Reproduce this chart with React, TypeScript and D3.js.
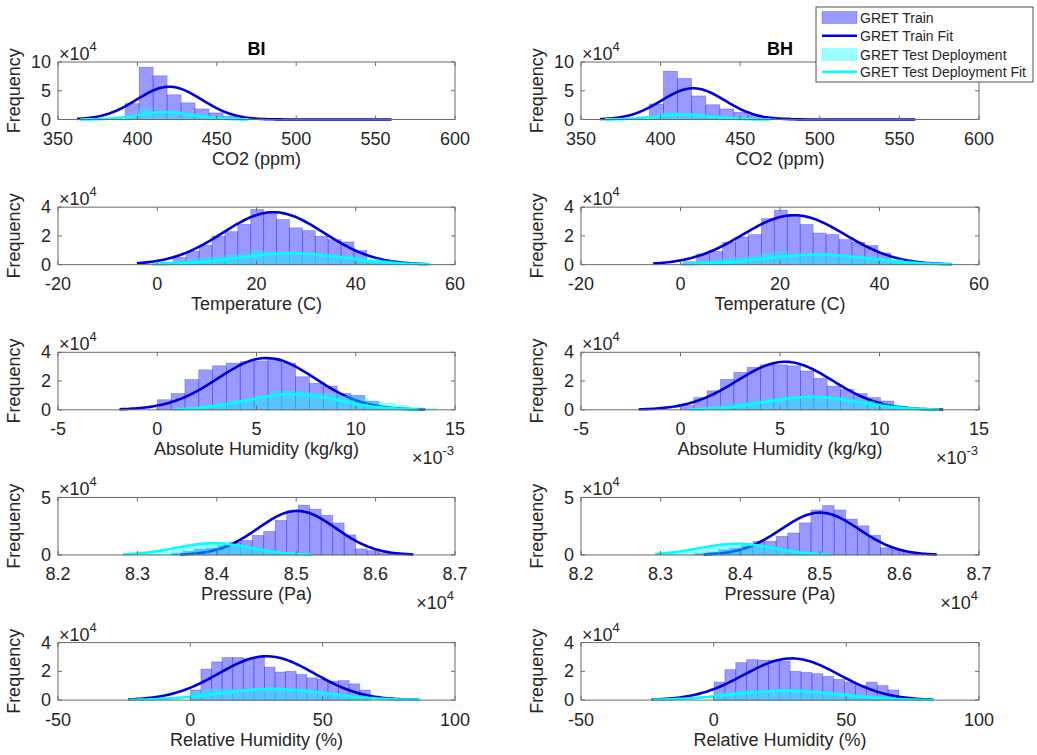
import React from 'react';
import * as d3 from 'd3';

// ---------------- DATA (counts in units of 1e4) ----------------
const sites = ['BI', 'BH'];
const variableLabels = ['CO2 (ppm)', 'Temperature (C)', 'Absolute Humidity (kg/kg)', 'Pressure (Pa)', 'Relative Humidity (%)'];
const xDomains = [[350, 600], [-20, 60], [-5, 15], [8.2, 8.7], [-50, 100]];
const xTickValues = [[350, 400, 450, 500, 550, 600], [-20, 0, 20, 40, 60], [-5, 0, 5, 10, 15], [8.2, 8.3, 8.4, 8.5, 8.6, 8.7], [-50, 0, 50, 100]];
const xExponents = ['', '', '-3', '4', ''];
const yMaxValues = [10, 4, 4, 5, 4];
const yTickValues = [[0, 5, 10], [0, 2, 4], [0, 2, 4], [0, 5], [0, 2, 4]];
const legendLabels = ['GRET Train', 'GRET Train Fit', 'GRET Test Deployment', 'GRET Test Deployment Fit'];

// histogram bins: [first edge, bin width]
const co2BinsBI = { train: [392.3, 8.8], test: [392.3, 8.8] };
const co2BinsBH = { train: [392.9, 8.86], test: [392.9, 8.86] };
const tempBinsBI = { train: [0.64, 2.6], test: [0.64, 2.6] };
const tempBinsBH = { train: [0.66, 2.6], test: [0.66, 2.6] };
const ahBinsBI = { train: [0, 0.697], test: [0.8, 0.7] };
const ahBinsBH = { train: [0, 0.67], test: [0.4, 0.67] };
const presBinsBI = { train: [8.3432, 0.01448], test: [8.30, 0.0145] };
const presBinsBH = { train: [8.3432, 0.01457], test: [8.30, 0.0146] };
const rhBinsBI = { train: [0, 4.0], test: [0, 4.0] };
const rhBinsBH = { train: [0.13, 4.1], test: [0.13, 4.1] };

// train counts
const co2TrainBI = [2.76, 9.1, 7.6, 4.3, 2.9, 1.84, 1.15, 0.57, 0.3, 0.2, 0.12, 0.05, 0.03, 0.02, 0.02, 0.01, 0.01, 0.01, 0.01];
const co2TrainBH = [2.7, 8.4, 7.14, 4.1, 2.57, 1.83, 1.26, 0.74, 0.46, 0.3, 0.1, 0.04, 0.02, 0.02, 0.01, 0.01, 0.01, 0.01, 0.01];
const tempTrainBI = [0.15, 0.5, 0.93, 1.35, 1.98, 2.3, 2.8, 3.84, 3.6, 3.14, 2.56, 2.37, 1.98, 1.74, 1.58, 0.98, 0.2, 0.08, 0.03];
const tempTrainBH = [0.2, 0.74, 0.93, 1.56, 1.93, 2.09, 3.2, 3.79, 3.4, 2.79, 2.2, 2.09, 1.74, 1.56, 1.33, 0.81, 0.2, 0.08, 0.03];
const ahTrainBI = [0.7, 1.13, 2.1, 2.78, 3.06, 3.25, 3.36, 3.4, 3.55, 3.25, 2.3, 1.84, 1.65, 1.13, 1.0, 0.59, 0.2, 0.08, 0.03];
const ahTrainBH = [0.3, 0.85, 1.32, 2.12, 2.6, 2.96, 3.13, 3.13, 3.06, 2.7, 2.19, 1.65, 1.41, 1.13, 0.85, 0.61, 0.24, 0.08, 0.03];
const presTrainBI = [0.15, 0.3, 0.5, 0.6, 0.8, 1.1, 1.26, 1.7, 2.05, 3.0, 3.83, 4.33, 3.98, 3.45, 2.78, 1.75, 0.53, 0.38, 0.18, 0.08];
const presTrainBH = [0.12, 0.25, 0.45, 0.6, 0.8, 1.18, 1.18, 1.62, 1.91, 2.79, 3.91, 4.29, 3.91, 3.12, 2.53, 1.71, 0.62, 0.44, 0.2, 0.08];
const rhTrainBI = [0.7, 2.16, 2.66, 2.96, 2.96, 2.89, 2.96, 2.3, 1.95, 2.0, 1.79, 1.55, 1.45, 1.32, 1.36, 1.13, 0.7];
const rhTrainBH = [1.25, 2.12, 2.61, 2.82, 2.78, 2.78, 2.73, 2.0, 1.93, 1.84, 1.65, 1.44, 1.25, 1.01, 1.25, 1.01, 0.71];

// test counts
const co2TestBI = [0.5, 2.0, 1.0, 0.9, 0.9, 0.8, 0.6, 0.4, 0.2, 0.1];
const co2TestBH = [0.4, 1.2, 0.9, 0.8, 0.75, 0.6, 0.45, 0.3, 0.15, 0.05];
const tempTestBI = [0.2, 0.3, 0.4, 0.5, 0.55, 0.65, 0.75, 1.0, 0.85, 0.8, 0.8, 0.8, 0.75, 0.7, 0.6, 0.5, 0.4, 0.3, 0.2, 0.1, 0.05];
const tempTestBH = [0.15, 0.25, 0.35, 0.45, 0.5, 0.6, 0.8, 0.95, 0.75, 0.7, 0.7, 0.7, 0.65, 0.6, 0.55, 0.45, 0.35, 0.25, 0.15, 0.08, 0.04];
const ahTestBI = [0.1, 0.2, 0.35, 0.5, 0.65, 0.8, 0.95, 1.3, 1.3, 1.25, 1.15, 1.1, 0.95, 0.8, 0.6, 0.45, 0.3, 0.15, 0.08];
const ahTestBH = [0.1, 0.2, 0.3, 0.45, 0.55, 0.7, 0.8, 0.9, 0.95, 0.95, 0.9, 0.85, 0.75, 0.6, 0.45, 0.35, 0.2, 0.12, 0.05];
const presTestBI = [0.05, 0.12, 0.25, 0.45, 0.65, 0.8, 0.95, 1.0, 0.9, 0.75, 0.55, 0.35, 0.2, 0.1, 0.04];
const presTestBH = [0.05, 0.12, 0.25, 0.42, 0.62, 0.8, 0.92, 0.97, 0.88, 0.72, 0.52, 0.33, 0.18, 0.08, 0.03];
const rhTestBI = [0.6, 0.7, 0.8, 0.75, 0.7, 0.72, 0.7, 0.75, 0.7, 0.68, 0.6, 0.55, 0.5, 0.45, 0.4, 0.3, 0.2];
const rhTestBH = [0.45, 0.55, 0.65, 0.65, 0.6, 0.65, 0.6, 0.6, 0.55, 0.55, 0.5, 0.45, 0.4, 0.35, 0.3, 0.25, 0.15];

// normal fits: [mean, sigma, peak (1e4), from, to]
const co2FitBI = { train: [420, 20.5, 5.7, 362, 560], test: [418, 17, 1.3, 364, 470] };
const co2FitBH = { train: [420.5, 20, 5.43, 362, 560], test: [414, 17, 0.86, 365, 469] };
const tempFitBI = { train: [23.4, 10.2, 3.65, -4.1, 54.3], test: [27, 10.5, 0.8, -1, 55] };
const tempFitBH = { train: [22.8, 10.3, 3.44, -5.5, 54.5], test: [27.4, 10.5, 0.7, 0.2, 54.5] };
const ahFitBI = { train: [5.5, 2.45, 3.6, -1.9, 13.5], test: [6.8, 2.3, 1.08, 0.8, 13.2] };
const ahFitBH = { train: [5.25, 2.4, 3.34, -2.1, 13.2], test: [6.6, 2.3, 0.9, 0.5, 13.0] };
const presFitBI = { train: [8.501, 0.049, 3.83, 8.354, 8.6475], test: [8.396, 0.047, 1.02, 8.282, 8.5195] };
const presFitBH = { train: [8.5003, 0.049, 3.68, 8.354, 8.647], test: [8.396, 0.047, 0.97, 8.293, 8.513] };
const rhFitBI = { train: [28.8, 18.1, 3.05, -23.4, 86.1], test: [31.3, 20, 0.78, -23, 87] };
const rhFitBH = { train: [29.4, 18, 2.9, -23.4, 82.8], test: [27.5, 20, 0.66, -23, 83] };

// table built from the arrays: [row][col]
const panelData = [
  [{ bins: co2BinsBI, train: co2TrainBI, test: co2TestBI, fit: co2FitBI }, { bins: co2BinsBH, train: co2TrainBH, test: co2TestBH, fit: co2FitBH }],
  [{ bins: tempBinsBI, train: tempTrainBI, test: tempTestBI, fit: tempFitBI }, { bins: tempBinsBH, train: tempTrainBH, test: tempTestBH, fit: tempFitBH }],
  [{ bins: ahBinsBI, train: ahTrainBI, test: ahTestBI, fit: ahFitBI }, { bins: ahBinsBH, train: ahTrainBH, test: ahTestBH, fit: ahFitBH }],
  [{ bins: presBinsBI, train: presTrainBI, test: presTestBI, fit: presFitBI }, { bins: presBinsBH, train: presTrainBH, test: presTestBH, fit: presFitBH }],
  [{ bins: rhBinsBI, train: rhTrainBI, test: rhTestBI, fit: rhFitBI }, { bins: rhBinsBH, train: rhTrainBH, test: rhTestBH, fit: rhFitBH }],
];

// ---------------- LAYOUT / STYLE ----------------
const W = 1037, H = 755;
const colX = [58, 581];
const colW = [397, 398];
const rowY0 = 62, rowStep = 145.15, axH = 57.5;
const FONT = '"Liberation Sans", Arial, Helvetica, sans-serif';
const FS = 18;
const TXT = '#262626';
const AXIS = '#6b6b6b';
const TRAIN = '#0000ff';
const TRAIN_LINE = '#0000dd';
const TEST = '#00ffff';

function Bars({ start, width, counts, xs, ys, color }: any) {
  return (
    <g>
      {counts.map((c: number, i: number) => {
        const a = start + i * width;
        const b = a + width;
        return (
          <rect key={i} x={xs(a)} y={ys(c)} width={xs(b) - xs(a)} height={ys(0) - ys(c)}
            fill={color} fillOpacity={0.4} stroke={color} strokeOpacity={0.3} strokeWidth={0.8} />
        );
      })}
    </g>
  );
}

function FitLine({ p, xs, ys, color }: any) {
  const [mu, sd, peak, lo, hi] = p;
  const pts = d3.range(121).map((k) => {
    const x = lo + ((hi - lo) * k) / 120;
    return [x, peak * Math.exp(-0.5 * ((x - mu) / sd) ** 2)] as [number, number];
  });
  const line = d3.line<[number, number]>().x((d) => xs(d[0])).y((d) => ys(d[1]));
  return <path d={line(pts) || ''} fill="none" stroke={color} strokeWidth={2.6} strokeLinejoin="round" />;
}

function Panel({ row, col }: { row: number; col: number }) {
  const d = panelData[row][col];
  const x0 = colX[col];
  const w = colW[col];
  const y0 = rowY0 + row * rowStep;
  const xs = d3.scaleLinear().domain(xDomains[row]).range([x0, x0 + w]);
  const ys = d3.scaleLinear().domain([0, yMaxValues[row]]).range([y0 + axH, y0]);
  const yb = y0 + axH;
  const tl = 4;
  return (
    <g>
      <Bars start={d.bins.train[0]} width={d.bins.train[1]} counts={d.train} xs={xs} ys={ys} color={TRAIN} />
      <FitLine p={d.fit.train} xs={xs} ys={ys} color={TRAIN_LINE} />
      <Bars start={d.bins.test[0]} width={d.bins.test[1]} counts={d.test} xs={xs} ys={ys} color={TEST} />
      <FitLine p={d.fit.test} xs={xs} ys={ys} color={TEST} />
      <rect x={x0} y={y0} width={w} height={axH} fill="none" stroke={AXIS} strokeWidth={1} />
      {xTickValues[row].map((v) => (
        <g key={'x' + v}>
          <line x1={xs(v)} x2={xs(v)} y1={yb} y2={yb - tl} stroke={AXIS} />
          <line x1={xs(v)} x2={xs(v)} y1={y0} y2={y0 + tl} stroke={AXIS} />
          <text x={xs(v)} y={yb + 25.5} textAnchor="middle" fontSize={FS} fill={TXT}>{String(v)}</text>
        </g>
      ))}
      {yTickValues[row].map((v) => (
        <g key={'y' + v}>
          <line x1={x0} x2={x0 + tl} y1={ys(v)} y2={ys(v)} stroke={AXIS} />
          <line x1={x0 + w} x2={x0 + w - tl} y1={ys(v)} y2={ys(v)} stroke={AXIS} />
          <text x={x0 - 7} y={ys(v)} dy="0.34em" textAnchor="end" fontSize={FS} fill={TXT}>{String(v)}</text>
        </g>
      ))}
      <text x={x0 + 1} y={y0 - 2} fontSize={FS} fill={TXT}>
        ×10<tspan dy={-9} fontSize={13}>4</tspan>
      </text>
      {xExponents[row] && (
        <text x={x0 + w - 1} y={yb + 54} textAnchor="end" fontSize={FS} fill={TXT}>
          ×10<tspan dy={-9} fontSize={13}>{xExponents[row]}</tspan>
        </text>
      )}
      <text x={x0 + w / 2} y={yb + 45.5} textAnchor="middle" fontSize={FS} fill={TXT}>{variableLabels[row]}</text>
      <text transform={`translate(${x0 - 38},${y0 + axH / 2}) rotate(-90)`} textAnchor="middle" fontSize={FS} fill={TXT}>Frequency</text>
      {row === 0 && (
        <text x={x0 + w / 2} y={y0 - 7} textAnchor="middle" fontSize={FS} fontWeight="bold" fill="#000">{sites[col]}</text>
      )}
    </g>
  );
}

function Legend() {
  const lx = 816, ly = 7, lw = 217, lh = 75;
  const rows = [17.5, 35.7, 54.5, 71.7];
  return (
    <g>
      <rect x={lx} y={ly} width={lw} height={lh} fill="#fff" stroke={TXT} strokeWidth={0.8} />
      {legendLabels.map((lab, i) => {
        const y = rows[i];
        const color = i < 2 ? TRAIN : TEST;
        return (
          <g key={lab}>
            {i % 2 === 0 ? (
              <rect x={822} y={y - 6} width={35} height={12} fill={color} fillOpacity={0.4} stroke={color} strokeOpacity={0.3} strokeWidth={0.8} />
            ) : (
              <line x1={822} x2={857} y1={y} y2={y} stroke={i === 1 ? TRAIN_LINE : TEST} strokeWidth={2.6} />
            )}
            <text x={860} y={y} dy="0.36em" fontSize={14} fill={TXT}>{lab}</text>
          </g>
        );
      })}
    </g>
  );
}

export default function App() {
  return (
    <svg width={W} height={H} viewBox={`0 0 ${W} ${H}`} style={{ position: 'absolute', left: 0, top: 0, background: '#fff' }} fontFamily={FONT}>
      <rect x={0} y={0} width={W} height={H} fill="#fff" />
      {[0, 1, 2, 3, 4].map((r) => [0, 1].map((c) => <Panel key={`${r}-${c}`} row={r} col={c} />))}
      <Legend />
    </svg>
  );
}
